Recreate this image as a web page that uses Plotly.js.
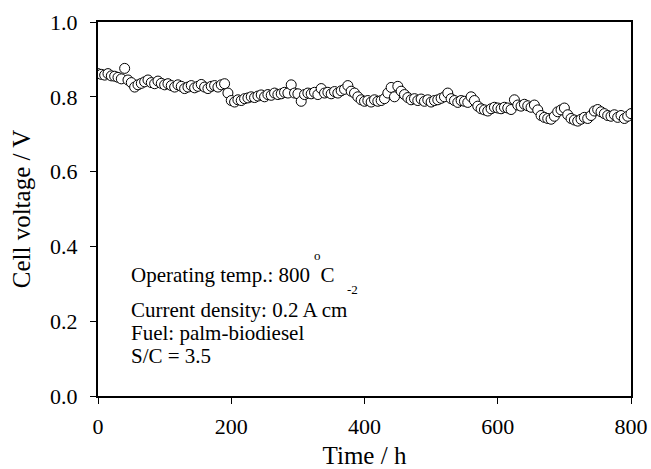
<!DOCTYPE html>
<html>
<head>
<meta charset="utf-8">
<script src="https://cdn.plot.ly/plotly-3.0.1.min.js"></script>
<style>html,body{margin:0;padding:0;background:#fff;}#chart{width:651px;height:469px;}</style>
</head>
<body>
<div id="chart"></div>
<script>
const timeH = [0,5,10,15,20,25,30,35,40,45,50,55,60,65,70,75,80,85,90,95,
100,105,110,115,120,125,130,135,140,145,150,155,160,165,170,175,180,185,190,195,
200,205,210,215,220,225,230,235,240,245,250,255,260,265,270,275,280,285,290,295,
300,305,310,315,320,325,330,335,340,345,350,355,360,365,370,375,380,385,390,395,
400,405,410,415,420,425,430,435,440,445,450,455,460,465,470,475,480,485,490,495,
500,505,510,515,520,525,530,535,540,545,550,555,560,565,570,575,580,585,590,595,
600,605,610,615,620,625,630,635,640,645,650,655,660,665,670,675,680,685,690,695,
700,705,710,715,720,725,730,735,740,745,750,755,760,765,770,775,780,785,790,795,800];
const cellVoltage = [0.862,0.860,0.858,0.862,0.856,0.855,0.852,0.848,0.876,0.845,0.838,0.826,0.832,0.836,0.840,0.845,0.838,0.835,0.842,0.836,
0.832,0.835,0.830,0.826,0.832,0.828,0.822,0.826,0.830,0.824,0.828,0.833,0.826,0.822,0.828,0.830,0.826,0.832,0.835,0.810,
0.790,0.786,0.792,0.790,0.795,0.797,0.800,0.798,0.802,0.805,0.800,0.806,0.804,0.810,0.806,0.808,0.812,0.810,0.832,0.810,
0.808,0.788,0.806,0.810,0.808,0.812,0.806,0.822,0.810,0.812,0.808,0.814,0.810,0.816,0.820,0.830,0.815,0.810,0.800,0.792,
0.788,0.790,0.786,0.792,0.788,0.790,0.795,0.810,0.825,0.800,0.828,0.815,0.806,0.798,0.792,0.795,0.790,0.794,0.788,0.792,
0.786,0.790,0.792,0.796,0.800,0.810,0.795,0.790,0.785,0.790,0.788,0.785,0.800,0.790,0.775,0.768,0.765,0.762,0.768,0.772,
0.770,0.768,0.772,0.770,0.766,0.792,0.778,0.775,0.780,0.776,0.772,0.778,0.765,0.750,0.745,0.742,0.740,0.748,0.760,0.765,
0.770,0.752,0.742,0.738,0.735,0.740,0.745,0.742,0.750,0.762,0.766,0.760,0.755,0.750,0.748,0.752,0.745,0.750,0.742,0.748,0.755];
const xTicks = [0,200,400,600,800];
const yTicks = [0.0,0.2,0.4,0.6,0.8,1.0];
const noteLines = ["Operating temp.: 800 &nbsp;C","Current density: 0.2 A cm","Fuel: palm-biodiesel","S/C = 3.5"];

const F = "Liberation Serif, Times New Roman, serif";
const trace = {
  x: timeH, y: cellVoltage, type: 'scatter', mode: 'markers',
  marker: {symbol: 'circle', size: 10, color: '#ffffff', line: {color: '#000000', width: 1}},
  hoverinfo: 'skip'
};
const annY = [0.323, 0.231, 0.169, 0.106];
const annotations = noteLines.map((t, i) => ({
  text: t, xref: 'paper', yref: 'paper', x: 0.058, y: annY[i],
  xanchor: 'left', yanchor: 'middle', showarrow: false,
  font: {family: F, size: 21, color: '#000'}
}));
annotations.push({text: 'o', xref: 'paper', yref: 'paper', x: 0.401, y: 0.375,
  xanchor: 'left', yanchor: 'middle', showarrow: false, font: {family: F, size: 13, color: '#000'}});
annotations.push({text: '-2', xref: 'paper', yref: 'paper', x: 0.464, y: 0.285,
  xanchor: 'left', yanchor: 'middle', showarrow: false, font: {family: F, size: 13, color: '#000'}});

const layout = {
  width: 651, height: 469,
  margin: {l: 98, r: 20, t: 22, b: 73, pad: 0},
  paper_bgcolor: '#fff', plot_bgcolor: '#fff',
  showlegend: false,
  font: {family: F, color: '#000'},
  xaxis: {
    range: [0, 800], tickvals: xTicks, ticktext: xTicks.map(String),
    ticks: 'outside', ticklen: 6, tickwidth: 1, tickcolor: '#000',
    showline: true, linecolor: '#000', linewidth: 2, mirror: true,
    showgrid: false, zeroline: false, ticklabelstandoff: 4,
    tickfont: {family: F, size: 22, color: '#000'},
    title: {text: 'Time / h', font: {family: F, size: 25, color: '#000'}, standoff: 8}
  },
  yaxis: {
    range: [0, 1.0], tickvals: yTicks, ticktext: yTicks.map(v => v.toFixed(1)),
    ticks: 'outside', ticklen: 6, tickwidth: 1, tickcolor: '#000',
    showline: true, linecolor: '#000', linewidth: 2, mirror: true,
    showgrid: false, zeroline: false, ticklabelstandoff: 8,
    tickfont: {family: F, size: 22, color: '#000'},
    title: {text: 'Cell voltage / V', font: {family: F, size: 25, color: '#000'}, standoff: 12}
  },
  annotations: annotations
};
Plotly.newPlot('chart', [trace], layout, {displayModeBar: false, staticPlot: true});
</script>
</body>
</html>
